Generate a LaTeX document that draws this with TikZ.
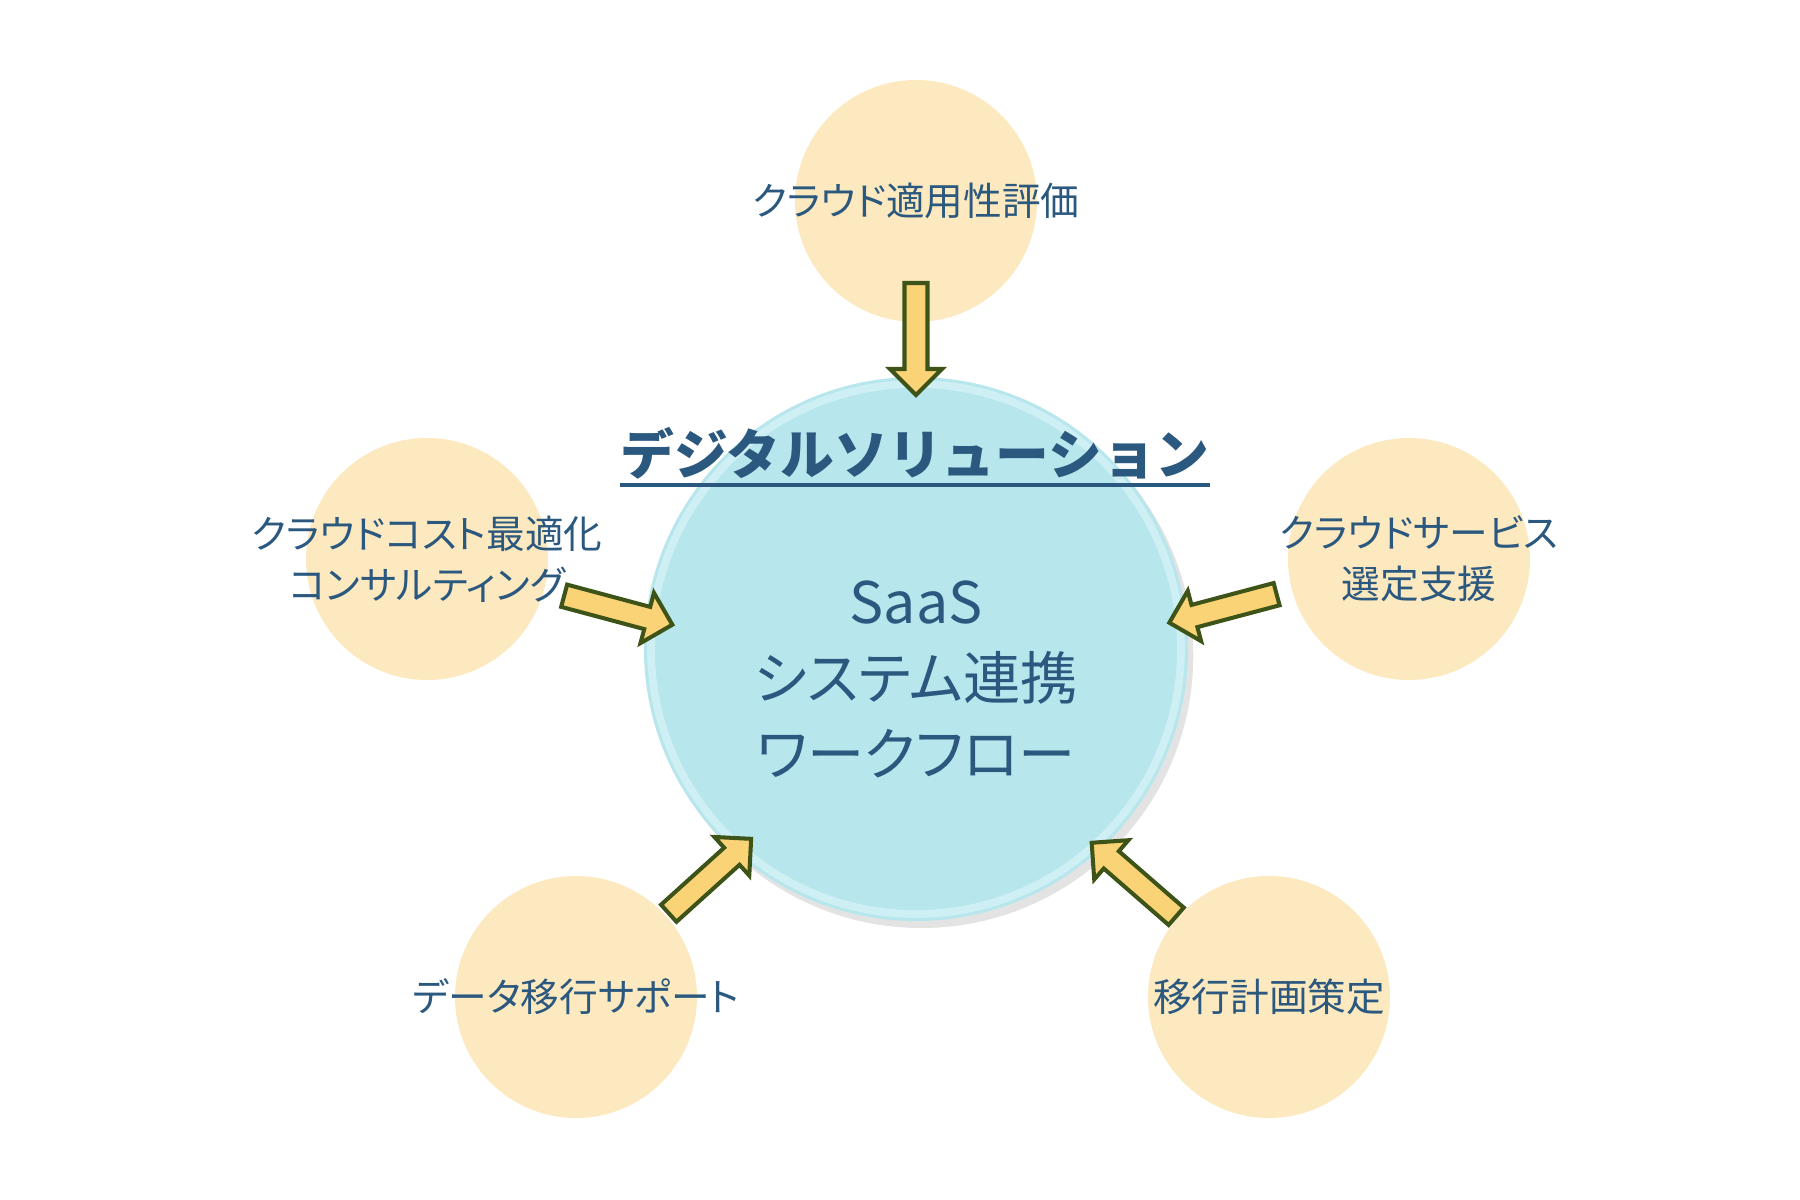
\documentclass[tikz,border=0pt]{standalone}
\usepackage{fontspec}
\setmainfont{Noto Sans CJK JP}
\newfontfamily\jpprop[RawFeature=+palt]{Noto Sans CJK JP}
\usepackage{xcolor}
\usetikzlibrary{calc, positioning, shadows}
\definecolor{hubcyan}{HTML}{B7E6EC}
\definecolor{hubrim}{HTML}{E2F7FA}
\definecolor{satpeach}{HTML}{FDE9BF}
\definecolor{arrowfill}{HTML}{FAD377}
\definecolor{arrowedge}{HTML}{3E5317}
\definecolor{labelblue}{HTML}{2B587E}
\tikzset{
  sat/.style={circle, fill=satpeach, minimum size=2.42cm, inner sep=0pt},
  hub/.style={circle, fill=hubcyan, minimum size=5.44cm, inner sep=0pt},
  satlabel/.style={align=center, text=labelblue, font=\jpprop\fontsize{11}{14.5}\selectfont, inner sep=0pt},
  hublabel/.style={align=center, text=labelblue, font=\jpprop\fontsize{16.3}{21.6}\selectfont, inner sep=0pt},
  blockarr/.style={fill=arrowfill, draw=arrowedge, line width=1.15pt, line join=miter}
}
% block arrow from #1 toward #2, tail and tip at distances #3 and #4 from #1
\newcommand{\blockarrow}[4]{
  \coordinate (tl) at ($(#1)!#3!(#2)$);
  \coordinate (tp) at ($(#1)!#4!(#2)$);
  \coordinate (nk) at ($(tp)!0.26cm!(tl)$);
  \draw[blockarr] ($(tl)!0.115cm!90:(tp)$) -- ($(nk)!0.115cm!90:(tp)$) -- ($(nk)!0.26cm!90:(tp)$)
    -- (tp) -- ($(nk)!0.26cm!-90:(tp)$) -- ($(nk)!0.115cm!-90:(tp)$) -- ($(tl)!0.115cm!-90:(tp)$) -- cycle;
}

\begin{document}
\begin{tikzpicture}
  \useasboundingbox (0,0) rectangle (18,12);

  % outer circles
  \node[sat] (top) at (9.16,9.99) {};
  \node[sat] (left) at (4.27,6.41) {};
  \node[sat] (right) at (14.09,6.41) {};
  \node[sat] (botleft) at (5.76,2.03) {};
  \node[sat] (botright) at (12.69,2.03) {};

  % hub with shadow and rim
  \node[hub, drop shadow={shadow xshift=1.5pt, shadow yshift=-2pt, opacity=0.22}] (hub) at (9.16,5.51) {};
  \draw[hubrim, line width=2.2pt, opacity=0.55] (hub.center) circle [radius=2.65cm];
  \coordinate (aim) at (9.16,5.10);

  \node[satlabel] (lbltop) at (top) {クラウド適用性評価};
  \node[satlabel] (lblleft) at (left) {クラウドコスト最適化\\コンサルティング};
  \node[satlabel, xshift=0.1cm] (lblright) at (right) {クラウドサービス\\選定支援};
  \node[satlabel] (lblbotleft) at (botleft) {データ移行サポート};
  \node[satlabel] (lblbotright) at (botright) {移行計画策定};

  \node[hublabel, yshift=-0.3cm] (lblhub) at (hub) {SaaS\\システム連携\\ワークフロー};
  \node[text=labelblue, font=\fontsize{15.3}{18}\selectfont\bfseries, inner sep=0pt] (title) at (9.15,7.47) {デジタルソリューション};
  \draw[labelblue, line width=0.9pt] ([yshift=-0.32cm]title.west) -- ([yshift=-0.32cm]title.east);

  \blockarrow{top}{hub}{0.82cm}{1.94cm}
  \blockarrow{left}{aim}{1.42cm}{2.54cm}
  \blockarrow{right}{aim}{1.37cm}{2.48cm}
  \blockarrow{botleft}{aim}{1.25cm}{2.36cm}
  \blockarrow{botright}{aim}{1.23cm}{2.35cm}
\end{tikzpicture}
\end{document}
